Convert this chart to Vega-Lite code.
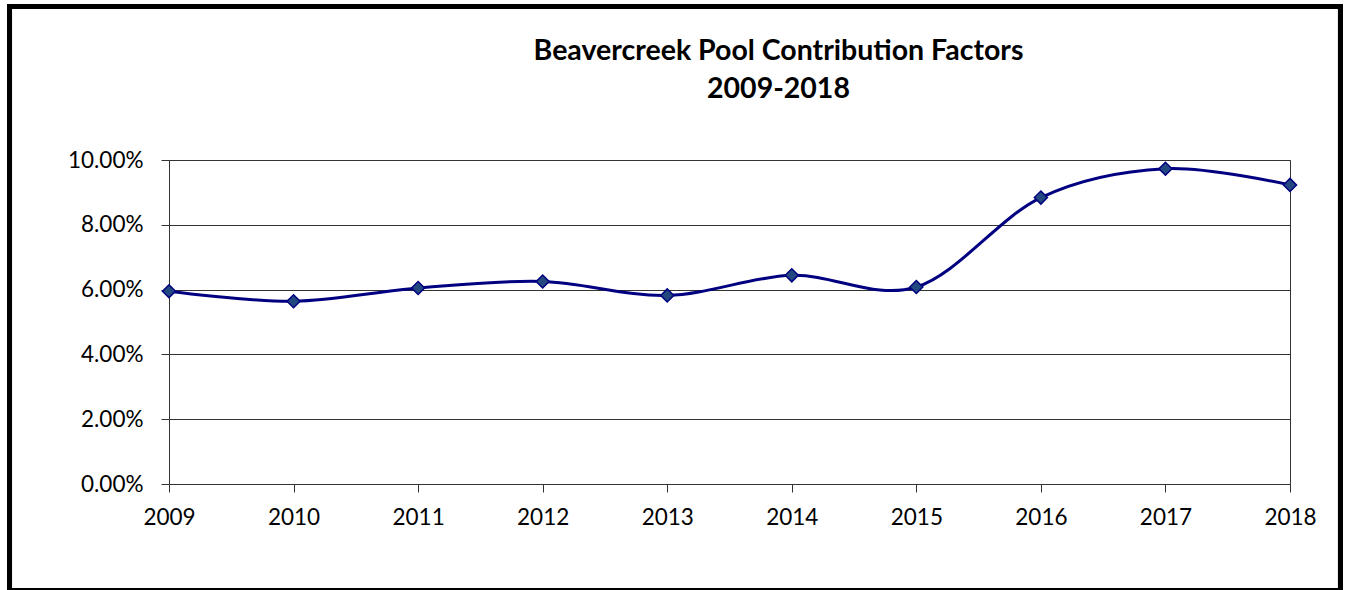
{
  "$schema": "https://vega.github.io/schema/vega-lite/v6.json",
  "width": 1121,
  "height": 324,
  "autosize": {"type": "none"},
  "padding": {"left": 169, "top": 160, "right": 58, "bottom": 106},
  "background": "white",
  "title": {
    "text": ["Beavercreek Pool Contribution Factors", "2009-2018"],
    "font": "Lato",
    "fontSize": 28.5,
    "fontWeight": "bold",
    "color": "black",
    "anchor": "middle",
    "frame": "group",
    "dx": 49,
    "dy": 100,
    "lineHeight": 38,
    "offset": 0
  },
  "data": {
    "values": [
      {"year": 2009, "factor": 0.0595},
      {"year": 2010, "factor": 0.0564},
      {"year": 2011, "factor": 0.0605},
      {"year": 2012, "factor": 0.0625},
      {"year": 2013, "factor": 0.0582},
      {"year": 2014, "factor": 0.0644},
      {"year": 2015, "factor": 0.0608},
      {"year": 2016, "factor": 0.0884},
      {"year": 2017, "factor": 0.0973},
      {"year": 2018, "factor": 0.0923}
    ]
  },
  "config": {
    "view": {"stroke": "#333333", "strokeWidth": 1},
    "axis": {
      "labelFont": "Lato",
      "labelFontSize": 22.5,
      "labelColor": "black",
      "domainColor": "#333333",
      "tickColor": "#333333",
      "tickSize": 8,
      "gridColor": "#333333",
      "gridOpacity": 1
    }
  },
  "layer": [
    {
      "mark": {"type": "rect", "fill": null, "stroke": "black", "strokeWidth": 5, "clip": false},
      "encoding": {
        "x": {"datum": 2007.7195, "type": "quantitative"},
        "x2": {"datum": 2018.4054},
        "y": {"datum": 0.14738, "type": "quantitative"},
        "y2": {"datum": -0.03302}
      }
    },
    {
      "mark": {
        "type": "line",
        "interpolate": "cardinal",
        "color": "#000080",
        "strokeWidth": 3,
        "point": {"shape": "diamond", "size": 170, "filled": true, "fill": "#22487F", "stroke": "#000080", "strokeWidth": 1.5, "opacity": 1}
      },
      "encoding": {
        "x": {
          "field": "year",
          "type": "quantitative",
          "scale": {"domain": [2009, 2018], "nice": false, "zero": false},
          "axis": {"title": null, "values": [2009, 2010, 2011, 2012, 2013, 2014, 2015, 2016, 2017, 2018], "format": "d", "grid": false, "labelPadding": 14, "labelFlush": false, "labelOverlap": false}
        },
        "y": {
          "field": "factor",
          "type": "quantitative",
          "scale": {"domain": [0, 0.1], "nice": false, "zero": true},
          "axis": {"title": null, "values": [0, 0.02, 0.04, 0.06, 0.08, 0.1], "format": ".2%", "grid": true, "labelPadding": 18}
        }
      }
    }
  ]
}
